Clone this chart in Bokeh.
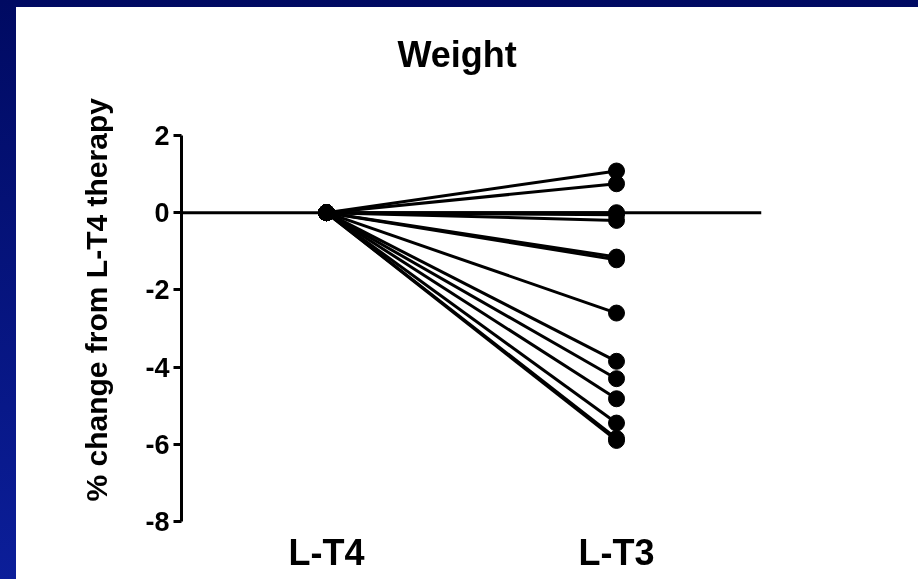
from bokeh.plotting import figure
from bokeh.models import FactorRange, Range1d, Span, Title, FixedTicker
from bokeh.embed import file_html
from bokeh.resources import INLINE

# ---- data ----
groups = ["L-T4", "L-T3"]
lt4_change = [0.0, 0.0, 0.0, 0.0, 0.0, 0.0, 0.0, 0.0, 0.0, 0.0, 0.0, 0.0, 0.0, 0.0]
lt3_change = [1.08, 0.75, 0.0, -0.05, -0.2, -1.15, -1.22, -2.6, -3.85, -4.3, -4.82, -5.45, -5.85, -5.9]
y_ticks = [2, 0, -2, -4, -6, -8]
y_tick_labels = ["2", "0", "-2", "-4", "-6", "-8"]
title_text = "Weight"
y_label_text = "% change from L-T4 therapy"

FONT = "Liberation Sans"

p = figure(width=902, height=608,
           x_range=FactorRange(*groups), y_range=Range1d(-8, 2),
           output_backend="svg", toolbar_location=None,
           min_border_left=165, min_border_right=157,
           min_border_top=128, min_border_bottom=58)
p.background_fill_color = None
p.border_fill_color = None
p.outline_line_color = None
p.xgrid.visible = False
p.ygrid.visible = False

# title (offset to sit where the original does)
p.title.text = title_text
p.title.align = "left"
p.title.offset = 216
p.title.standoff = 121
p.title.text_font = FONT
p.title.text_font_style = "bold"
p.title.text_font_size = "36px"
p.title.text_color = "black"

# y axis
ya = p.yaxis[0]
ya.ticker = FixedTicker(ticks=y_ticks)
ya.major_label_overrides = dict(zip(y_ticks, y_tick_labels))
ya.axis_line_width = 3
ya.axis_line_color = "black"
ya.major_tick_line_width = 3
ya.major_tick_line_color = "black"
ya.major_tick_out = 8
ya.major_tick_in = 0
ya.minor_tick_line_color = None
ya.major_label_text_font = FONT
ya.major_label_text_font_style = "bold"
ya.major_label_text_font_size = "27px"
ya.major_label_text_color = "black"
ya.major_label_standoff = 4

# y label as a left-side title so it can sit off-centre like the original
ylab = Title(text=y_label_text, align="left", offset=20, standoff=60,
             text_font=FONT, text_font_style="bold", text_font_size="30px",
             text_color="black")
p.add_layout(ylab, "left")

# x axis
xa = p.xaxis[0]
xa.axis_line_color = None
xa.major_tick_line_color = None
xa.minor_tick_line_color = None
xa.major_label_text_font = FONT
xa.major_label_text_font_style = "bold"
xa.major_label_text_font_size = "36px"
xa.major_label_text_color = "black"
xa.major_label_standoff = 4

# zero reference line
p.add_layout(Span(location=0, dimension="width", line_color="black", line_width=3))

n = len(lt3_change)
p.segment(x0=[groups[0]] * n, y0=lt4_change, x1=[groups[1]] * n, y1=lt3_change,
          line_color="black", line_width=3)
p.scatter(x=[groups[0]] * n, y=lt4_change, size=16, color="black")
p.scatter(x=[groups[1]] * n, y=lt3_change, size=16, color="black")

tmpl = ("{% block preamble %}<style>"
        "html{background:linear-gradient(#000a62,#0c1f9c) !important;"
        "overflow:hidden !important;height:auto !important;}"
        "html body{margin:0 !important;padding:0 0 0 16px !important;"
        "position:relative;top:-29px;box-sizing:border-box;"
        "height:auto !important;min-height:0 !important;"
        "background:transparent !important;overflow:visible !important;}"
        "html body::before{content:'';position:fixed;left:16px;top:7px;"
        "width:902px;height:572px;background:#ffffff;z-index:-1;}"
        "</style>{% endblock %}")

open("out.html", "w").write(file_html(p, INLINE, template=tmpl))
